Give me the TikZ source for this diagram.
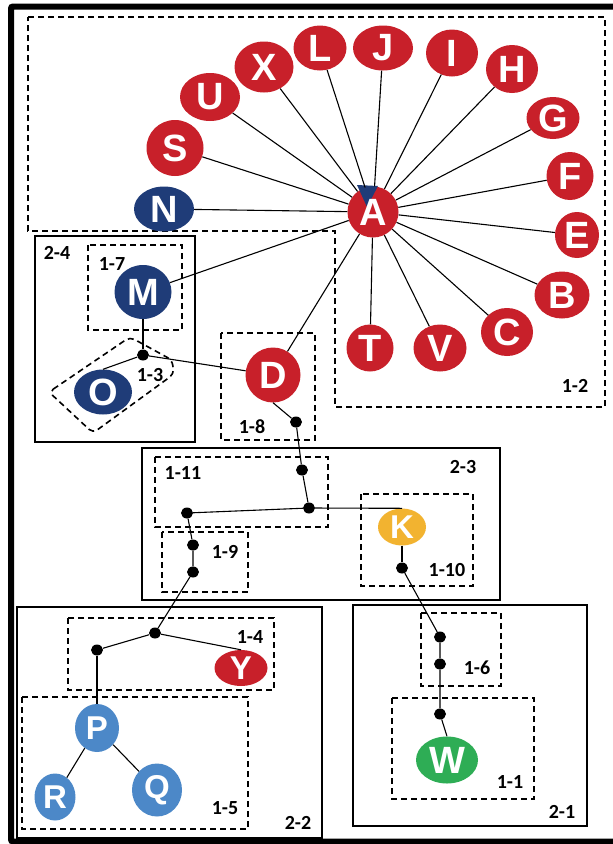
\documentclass[tikz,border=0pt]{standalone}
\usepackage{fontspec}
\setmainfont{Liberation Sans}
\newfontfamily\labelfont{Carlito}
\usetikzlibrary{shapes.geometric}

\definecolor{vred}{HTML}{C8202A}
\definecolor{vnavy}{HTML}{1F3C78}
\definecolor{vsky}{HTML}{4C88C8}
\definecolor{vgreen}{HTML}{2EAD55}
\definecolor{vgold}{HTML}{F2B330}

\tikzset{
  vtx/.style={ellipse, inner sep=0pt, text=white,
    font=\bfseries\fontsize{38}{38}\selectfont},
  sz/.style 2 args={minimum width=#1, minimum height=#2},
  red/.style={vtx, fill=vred},
  navy/.style={vtx, fill=vnavy},
  sky/.style={vtx, fill=vsky, font=\bfseries\fontsize{33}{33}\selectfont},
  dot/.style={ellipse, fill=black, inner sep=0pt, minimum width=12, minimum height=11},
  edge/.style={line width=1.1, black},
  group/.style={line width=2.4, black},
  dbox/.style={line width=1.6, black, dash pattern=on 6pt off 4pt},
  lbl/.style={font=\labelfont\bfseries\fontsize{20}{20}\selectfont, inner sep=0pt}
}

\begin{document}
\begin{tikzpicture}[x=1pt, y=-1pt]
\useasboundingbox (0,0) rectangle (613,844);
\fill[white] (0,0) rectangle (613,844);

% outer frame
\draw[line width=6, rounded corners=2] (11,6.5) rectangle (620,841.5);

% level-2 groups
\draw[group] (35,236) rectangle (195,442);
\draw[group] (142,448) rectangle (500,600);
\draw[group] (17,607) rectangle (322,838);
\draw[group] (353,605) rectangle (587,826);

% level-1 groups
\draw[dbox] (28,17) -- (605,17) -- (605,407) -- (335,407) -- (335,231) -- (28,231) -- cycle;
\draw[dbox] (88,245) rectangle (182,330);
\draw[dbox, rounded corners=5] (49,392) -- (130,337) -- (172,360) -- (174,374) -- (93,433) -- cycle;
\draw[dbox] (221,333) rectangle (315,440);
\draw[dbox] (155,457) rectangle (328,527);
\draw[dbox] (162,532) rectangle (248,592);
\draw[dbox] (361,494) rectangle (473,586);
\draw[dbox] (68,618) rectangle (274,690);
\draw[dbox] (22,697) rectangle (248,829);
\draw[dbox] (421,613) rectangle (501,686);
\draw[dbox] (392,698) rectangle (534,799);

% group labels
\node[lbl] (g12) at (575,386) {1-2};
\node[lbl] (g24) at (57,253) {2-4};
\node[lbl] (g17) at (112,264) {1-7};
\node[lbl] (g13) at (150,375) {1-3};
\node[lbl] (g18) at (252,427) {1-8};
\node[lbl] (g23) at (463,467) {2-3};
\node[lbl] (g111) at (183,473) {1-11};
\node[lbl] (g19) at (225,552) {1-9};
\node[lbl] (g110) at (447,570) {1-10};
\node[lbl] (g14) at (250,637) {1-4};
\node[lbl] (g15) at (225,808) {1-5};
\node[lbl] (g22) at (298,823) {2-2};
\node[lbl] (g16) at (477,668) {1-6};
\node[lbl] (g11) at (510,782) {1-1};
\node[lbl] (g21) at (562,812) {2-1};

% vertices
\node[red, sz={51}{51}] (A) at (373,212) {};
\node[red, sz={57}{56}] (S) at (175,148) {S};
\node[red, sz={60}{48}] (U) at (210,97) {U};
\node[red, sz={59}{51}] (X) at (264,67) {X};
\node[red, sz={53}{45}] (L) at (320,48) {L};
\node[red, sz={60}{45}] (J) at (383,48) {J};
\node[red, sz={52}{47}] (I) at (452,53) {I};
\node[red, sz={52}{48}] (H) at (512,69) {H};
\node[red, sz={53}{42}] (G) at (553,118) {G};
\node[red, sz={47}{48}] (F) at (570,176) {F};
\node[red, sz={44}{46}] (E) at (577,235) {E};
\node[red, sz={55}{47}] (B) at (562,295) {B};
\node[red, sz={52}{48}] (C) at (507,332) {C};
\node[red, sz={53}{47}] (V) at (440,348) {V};
\node[red, sz={47}{47}] (T) at (370,348) {T};
\node[navy, sz={60}{45}] (N) at (164,209) {N};
\node[navy, sz={57}{54}] (M) at (143,292) {M};
\node[navy, sz={58}{45}] (O) at (103,392) {O};
\node[red, sz={55}{55}] (D) at (273,375) {D};
\node[vtx, fill=vgold, sz={48}{37}, font=\bfseries\fontsize{33}{33}\selectfont] (K) at (402,527) {K};
\node[red, sz={53}{36}, font=\bfseries\fontsize{33}{33}\selectfont] (Y) at (241,668) {Y};
\node[sky, sz={44}{48}] (P) at (97,728) {P};
\node[sky, sz={41}{47}] (R) at (55,797) {R};
\node[sky, sz={50}{53}] (Q) at (157,790) {Q};
\node[vtx, fill=vgreen, sz={62}{47}] (W) at (447,760) {W};

% overlap wedge on A, letter set on top
\fill[vnavy] (357,185) -- (378,186) -- (367,207) -- cycle;
\node[vtx] (Atext) at (A.center) {A};

% junction points
\node[dot] (d1) at (143,355) {};
\node[dot] (d2) at (296,422) {};
\node[dot] (d3) at (302,470) {};
\node[dot] (d4) at (309,508) {};
\node[dot] (d5) at (187,513) {};
\node[dot] (d6) at (193,545) {};
\node[dot] (d7) at (193,572) {};
\node[dot] (d8) at (155,633) {};
\node[dot] (d9) at (97,650) {};
\node[dot] (d10) at (402,568) {};
\node[dot] (d11) at (440,637) {};
\node[dot] (d12) at (440,664) {};
\node[dot] (d13) at (440,714) {};

% star around A
\foreach \v in {S,U,X,L,J,I,H,G,F,E,B,C,V,T,N,M,D}
  \draw[edge] (\v) -- (A);

% chains
\draw[edge] (M) -- (d1);
\draw[edge] (d1) -- (O.north);
\draw[edge] (d1) -- (D);
\draw[edge] (D.south) -- (d2);
\draw[edge] (d2) -- (d3) -- (d4);
\draw[edge] (d4) -- (d5);
\draw[edge] (d4) -- (K.north);
\draw[edge] (d5) -- (d6) -- (d7);
\draw[edge] (d7) -- (d8);
\draw[edge] (d8) -- (d9);
\draw[edge] (d8) -- (Y.north);
\draw[edge] (d9) -- (P);
\draw[edge] (P) -- (R);
\draw[edge] (P) -- (Q);
\draw[edge] (K.south) -- (d10);
\draw[edge] (d10) -- (d11) -- (d12) -- (d13);
\draw[edge] (d13) -- (W.north);
\end{tikzpicture}
\end{document}
